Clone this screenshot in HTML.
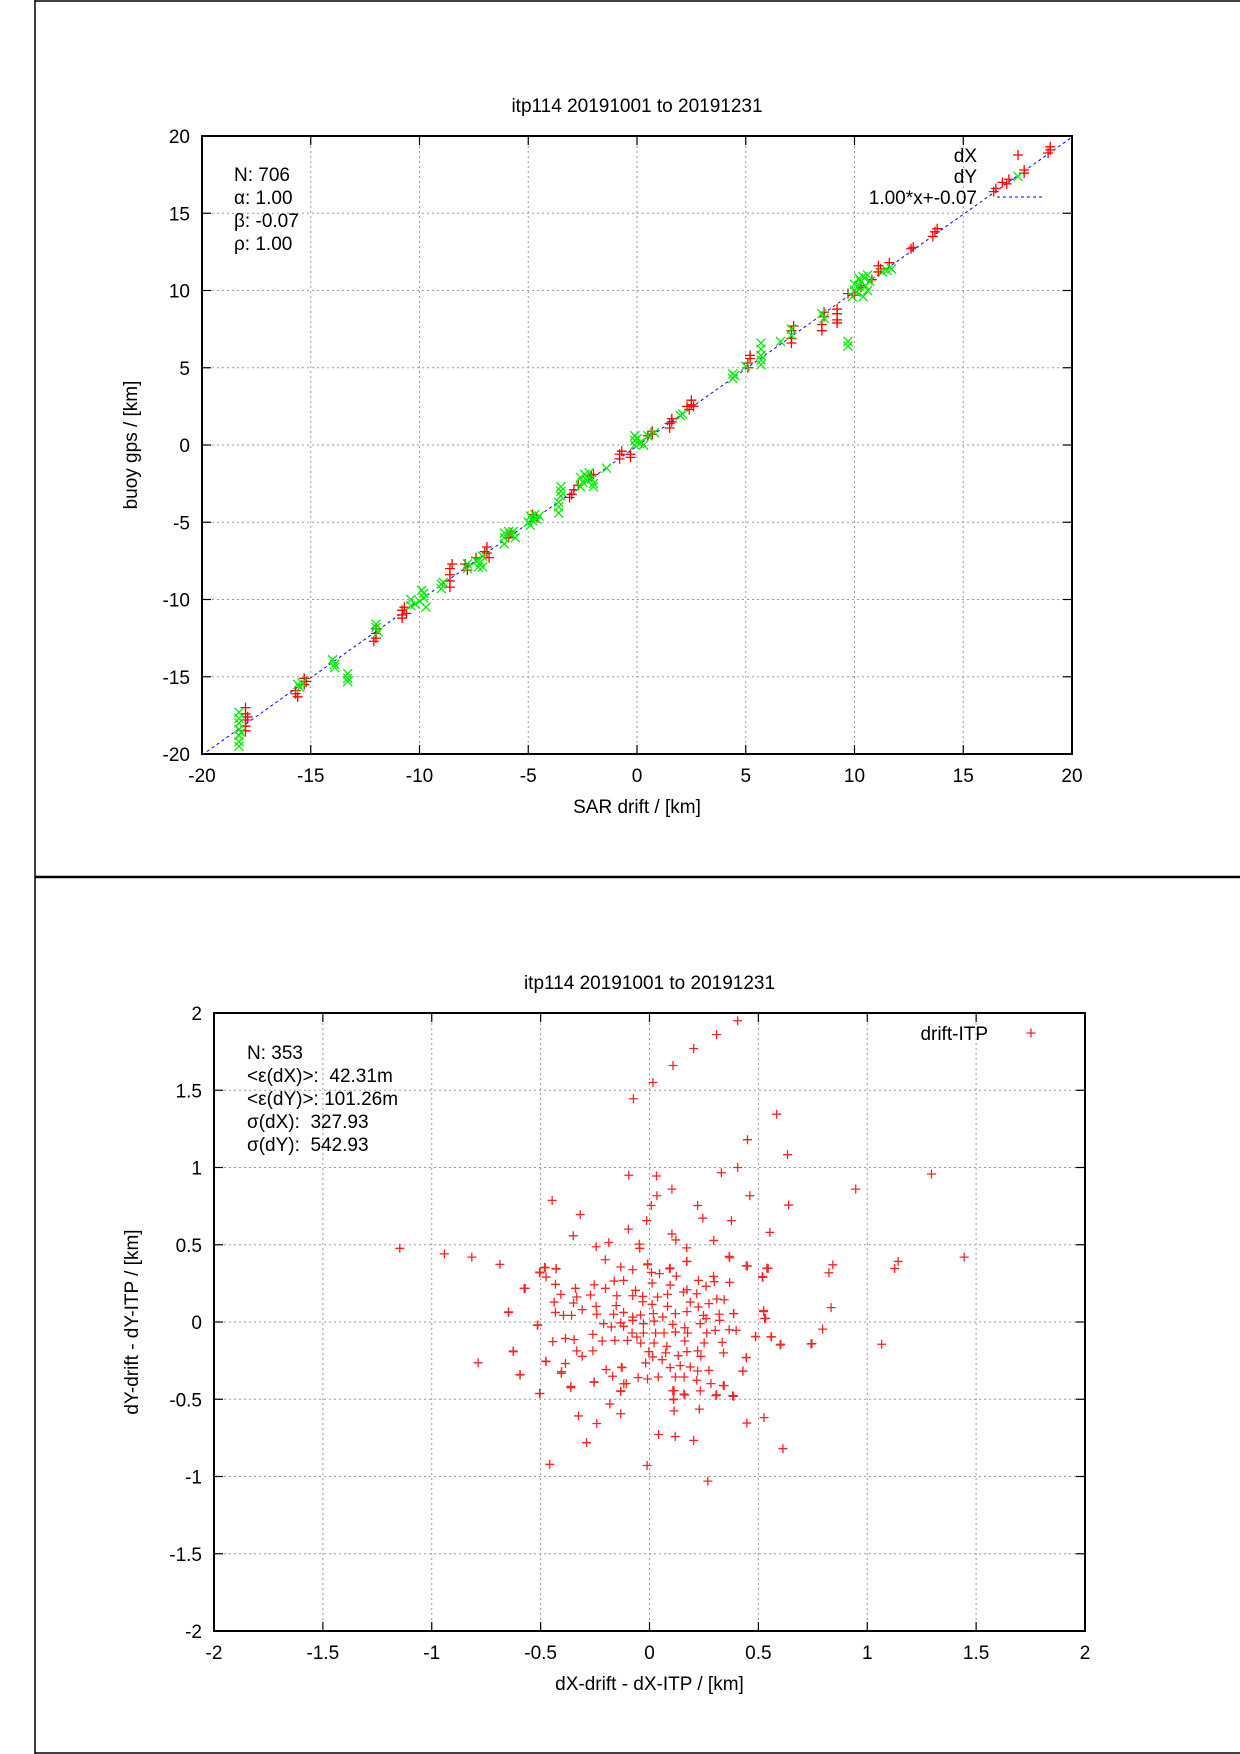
<!DOCTYPE html>
<html><head><meta charset="utf-8">
<style>
html,body{margin:0;padding:0;background:#fff;}
svg{display:block;font-family:"Liberation Sans",Arial,sans-serif;}
text{white-space:pre;}
</style></head>
<body>
<svg id="svg" width="1240" height="1754" viewBox="0 0 1240 1754" xmlns="http://www.w3.org/2000/svg">
<rect x="0" y="0" width="1240" height="1754" fill="#fff"/>
<line x1="35" y1="0" x2="35" y2="1754" stroke="#000" stroke-width="1.5"/>
<line x1="35" y1="1" x2="1240" y2="1" stroke="#000" stroke-width="1.5"/>
<line x1="35" y1="1753" x2="1240" y2="1753" stroke="#000" stroke-width="1.5"/>
<line x1="35" y1="877" x2="1240" y2="877" stroke="#000" stroke-width="2.5"/>
<g id="p1"></g>
<g id="p2"></g>
</svg>
<script>
// ===== Chart 1 data: [SAR drift, buoy gps] in km =====
const p1XTicks = [-20,-15,-10,-5,0,5,10,15,20];
const p1YTicks = [-20,-15,-10,-5,0,5,10,15,20];
const p1Stats = ["N: 706","α: 1.00","β: -0.07","ρ: 1.00"];
const fitSlope = 1.00;
const fitIntercept = -0.07;
const dXPoints = [
[-18.0,-17.0],[-18.0,-17.4],[-18.0,-17.8],[-18.0,-18.2],[-18.0,-18.5],[-17.9,-17.6],
[-15.7,-16.1],[-15.7,-15.9],[-15.6,-16.3],[-15.3,-15.1],[-15.3,-15.5],[-15.2,-15.3],
[-12,-12.5],[-12,-12.2],[-12,-11.9],[-12.1,-12.7],
[-10.8,-10.7],[-10.8,-11.0],[-10.7,-10.5],[-10.8,-11.2],[-10.6,-10.9],
[-8.6,-8.0],[-8.6,-8.4],[-8.6,-8.8],[-8.6,-9.2],[-8.5,-7.7],
[-7.9,-7.7],[-7.8,-8.1],[-7.4,-7.3],
[-6.9,-6.6],[-6.9,-7.0],[-6.8,-7.3],[-7.0,-6.9],
[-5.9,-6.0],[-5.8,-5.7],[-4.8,-4.5],[-4.6,-4.7],
[-3.0,-3.2],[-2.9,-2.9],[-2.7,-2.6],[-3.1,-3.4],[-2.0,-1.9],[-2.1,-2.0],
[-0.8,-0.6],[-0.8,-0.9],[-0.7,-0.4],[-0.3,-0.6],[-0.3,-0.8],
[0.5,0.6],[0.7,0.9],[0.7,0.7],
[1.5,1.1],[1.5,1.4],[1.6,1.7],[1.6,1.5],
[2.4,2.3],[2.5,2.6],[2.5,2.9],[2.3,2.5],[2.6,2.5],
[5.1,5.0],[5.1,5.3],[5.2,5.6],[5.2,5.8],
[7.1,6.6],[7.1,6.9],[7.1,7.4],[7.2,7.7],
[8.5,7.4],[8.5,7.8],[8.6,8.3],[8.6,8.6],
[9.2,8.1],[9.2,8.5],[9.2,8.8],[9.2,7.9],
[9.7,9.8],[10.0,9.7],[10.3,10.2],[10.8,10.7],
[11.1,11.2],[11.1,11.6],[11.2,11.4],[11.6,11.8],
[12.6,12.7],[12.7,12.8],
[13.6,13.5],[13.7,13.8],[13.8,14.0],
[16.4,16.4],[16.5,16.6],[16.8,17.0],[17.0,16.9],[17.1,17.2],
[17.8,17.6],[17.8,17.8],[18.9,18.9],[19.0,19.1],[19.0,19.3]
];
const dYPoints = [
[-18.3,-17.3],[-18.3,-17.7],[-18.3,-18.0],[-18.3,-18.4],[-18.3,-18.8],[-18.3,-19.2],[-18.3,-19.5],[-18.2,-18.6],
[-15.6,-15.5],[-15.4,-15.4],[-15.5,-15.7],
[-14.0,-13.9],[-13.9,-14.2],[-13.9,-14.4],
[-13.3,-14.8],[-13.3,-15.1],[-13.3,-15.3],
[-12.0,-11.8],[-11.9,-12.1],[-12.0,-11.6],
[-10.4,-10.0],[-10.4,-10.4],[-10.2,-10.3],[-10.0,-10.1],
[-9.8,-9.6],[-9.8,-9.9],[-9.7,-10.5],[-9.9,-9.4],
[-9.0,-9.0],[-9.0,-9.3],[-8.9,-8.9],
[-7.8,-7.7],[-7.8,-8.0],[-7.4,-7.5],[-7.3,-7.9],[-7.1,-7.2],[-7.2,-7.6],[-7.1,-7.9],
[-6.1,-5.7],[-6.1,-6.0],[-6.1,-6.4],[-5.9,-5.6],[-5.8,-5.8],[-5.7,-5.6],[-5.6,-6.0],
[-5.0,-5.0],[-4.9,-4.6],[-4.8,-4.9],[-4.6,-4.8],[-4.5,-4.6],[-4.7,-4.5],[-4.9,-5.2],
[-3.5,-2.7],[-3.5,-3.0],[-3.5,-3.3],[-3.6,-3.7],[-3.6,-4.0],[-3.6,-4.4],
[-2.6,-2.1],[-2.5,-2.4],[-2.6,-2.7],[-2.4,-1.9],[-2.3,-2.3],[-2.1,-2.2],[-2.0,-2.7],[-2.0,-2.5],[-2.2,-1.8],
[-1.4,-1.5],
[-0.1,0.0],[-0.1,0.3],[-0.1,0.6],[0.0,0.4],[0.1,0.1],[0.2,0.2],[0.3,0.0],[0.5,0.6],[0.8,0.8],
[2.1,2.0],[2.0,1.9],
[4.4,4.3],[4.4,4.6],[4.5,4.5],
[5.0,5.1],[5.7,5.2],[5.7,5.5],[5.7,5.8],[5.7,6.2],[5.7,6.6],
[6.6,6.7],[7.1,7.1],[7.1,7.5],
[8.5,8.5],[8.6,8.2],
[9.7,6.4],[9.7,6.7],
[9.9,9.6],[10.0,10.0],[10.1,9.9],[10.2,10.3],[10.3,10.6],[10.4,10.9],[10.5,10.3],[10.6,10.0],[10.4,9.6],[10.6,11.0],[10.2,10.8],[10.0,10.4],[10.7,10.6],
[11.3,11.2],[11.5,11.3],[11.7,11.4]
];
// ===== Chart 2 data: [dX-drift - dX-ITP, dY-drift - dY-ITP] in km =====
const p2XTicks = [-2,-1.5,-1,-0.5,0,0.5,1,1.5,2];
const p2YTicks = [-2,-1.5,-1,-0.5,0,0.5,1,1.5,2];
const p2Stats = ["N: 353","<ε(dX)>:  42.31m","<ε(dY)>: 101.26m","σ(dX):  327.93","σ(dY):  542.93"];
const diffPoints = [
[0.405,1.95],[0.308,1.86],[0.203,1.77],[0.108,1.66],[0.016,1.55],[-0.074,1.445],[0.584,1.345],[0.45,1.18],[0.634,1.083],
[0.405,1.0],[0.33,0.966],[-0.095,0.95],[0.032,0.945],[1.295,0.958],[0.947,0.86],[0.103,0.86],[0.461,0.817],[-0.447,0.787],
[0.034,0.817],[0.639,0.757],[0.221,0.754],[0.008,0.754],[-0.318,0.695],[0.245,0.672],[0.376,0.656],[-0.013,0.656],[-0.097,0.601],
[0.553,0.58],[0.103,0.57],[-0.35,0.558],[0.295,0.528],[0.121,0.531],[-0.187,0.514],[-0.245,0.487],[-0.047,0.504],[-0.045,0.477],
[0.171,0.48],[-1.147,0.477],[-0.942,0.441],[-0.816,0.42],[-0.687,0.373],[1.445,0.42],[1.142,0.392],[1.126,0.346],[0.842,0.37],
[0.824,0.319],[0.366,0.425],[0.45,0.362],[0.539,0.349],[0.518,0.294],[0.171,0.392],[-0.203,0.403],[-0.008,0.376],[0.095,0.349],
[-0.482,0.354],[-0.429,0.346],[-0.503,0.319],[-0.571,0.218],[-0.647,0.065],[-0.513,-0.019],[0.834,0.093],[0.795,-0.046],
[0.742,-0.142],[1.066,-0.144],[0.603,-0.144],[0.558,-0.095],[-0.626,-0.188],[-0.787,-0.264],[-0.595,-0.34],[-0.503,-0.463],
[-0.476,-0.253],[-0.405,-0.332],[-0.361,-0.417],[-0.255,-0.387],[-0.182,-0.531],[-0.132,-0.594],[-0.326,-0.608],[-0.242,-0.657],
[-0.289,-0.781],[-0.458,-0.921],[-0.011,-0.929],[0.268,-1.03],[0.042,-0.728],[0.118,-0.741],[0.203,-0.766],[0.613,-0.82],
[0.447,-0.654],[0.526,-0.619],[0.229,-0.564],[0.113,-0.575],[0.382,-0.477],[0.308,-0.471],[0.339,-0.411],[0.429,-0.319],
[0.445,-0.229],[0.487,-0.095],[0.387,0.054],[0.524,0.074],[0.529,0.022],[-0.129,-0.292],[-0.118,-0.4],[-0.132,-0.45],
[0.113,-0.444],[0.158,-0.466],[0.111,-0.499],
[-0.479,0.351],[-0.429,0.343],[-0.505,0.323],[-0.475,0.291],[-0.132,0.356],[-0.077,0.338],[-0.009,0.371],[0.009,0.321],
[0.046,0.313],[0.092,0.345],[0.123,0.297],[0.172,0.392],[0.368,0.416],[0.444,0.364],[0.294,0.295],[0.225,0.269],[0.26,0.231],
[0.297,0.261],[0.368,0.256],[0.521,0.289],[0.545,0.347],
[-0.432,0.244],[-0.576,0.218],[-0.34,0.218],[-0.254,0.241],[-0.202,0.218],[-0.162,0.265],[-0.119,0.269],[-0.064,0.205],
[0.012,0.252],[0.095,0.239],[0.172,0.209],[0.217,0.183],[-0.407,0.179],[-0.334,0.162],[-0.271,0.175],[-0.15,0.17],[-0.077,0.17],
[-0.031,0.166],[0.037,0.162],[0.083,0.179],[0.156,0.194],[0.187,0.129],[0.309,0.149],[0.343,0.144],[0.273,0.119],[-0.438,0.129],
[-0.349,0.123],[-0.309,0.08],[-0.245,0.101],[-0.153,0.106],[-0.031,0.131],[0.012,0.114],[0.083,0.101],[0.224,0.097],
[-0.432,0.062],[-0.395,0.043],[-0.358,0.043],[-0.648,0.062],[-0.242,0.05],[-0.165,0.05],[-0.119,0.062],[-0.077,0.032],
[-0.041,0.045],[0.018,0.054],[0.061,0.032],[0.119,0.054],[0.172,0.067],[0.248,0.043],[0.32,0.05],[0.386,0.054],[0.524,0.067],
[0.533,0.024],[-0.515,-0.022],[-0.211,-0.011],[-0.132,-0.006],[-0.077,0.011],[-0.028,-0.011],[0.021,0.006],[0.107,-0.015],
[0.162,-0.037],[0.233,-0.011],[0.26,0.022],[0.322,0.011],
[-0.26,-0.08],[-0.175,-0.032],[-0.119,-0.028],[-0.08,-0.071],[-0.058,-0.097],[-0.028,-0.071],[0.028,-0.071],[0.067,-0.071],
[0.119,-0.065],[0.175,-0.071],[0.263,-0.071],[0.302,-0.054],[0.366,-0.05],[0.398,-0.054],[0.487,-0.093],[-0.444,-0.127],
[-0.386,-0.106],[-0.346,-0.114],[-0.217,-0.123],[-0.159,-0.119],[-0.101,-0.119],[-0.04,-0.136],[0.021,-0.136],[0.08,-0.157],
[0.162,-0.123],[0.251,-0.136],[0.334,-0.131],[0.56,-0.097],[0.6,-0.149],[0.746,-0.14],
[-0.625,-0.192],[-0.334,-0.187],[-0.26,-0.187],[-0.309,-0.222],[-0.003,-0.192],[0.015,-0.226],[0.074,-0.2],[0.132,-0.218],
[0.172,-0.192],[0.221,-0.187],[0.236,-0.222],[0.34,-0.2],[0.444,-0.231],[-0.475,-0.256],[-0.386,-0.269],[-0.018,-0.265],
[0.058,-0.244],[0.095,-0.295],[0.141,-0.282],[0.187,-0.291],[0.221,-0.317],[0.273,-0.313],[-0.404,-0.321],[-0.199,-0.308],
[-0.126,-0.295],[-0.169,-0.351],[-0.052,-0.36],[-0.009,-0.369],[0.04,-0.356],[0.119,-0.356],[0.159,-0.356],[0.217,-0.377],
[0.429,-0.317],[-0.594,-0.343],
[-0.361,-0.425],[-0.254,-0.39],[-0.107,-0.399],[-0.132,-0.446],[0.107,-0.446],[0.162,-0.472],[0.233,-0.446],[0.282,-0.399],
[0.343,-0.412],[0.305,-0.476],[0.386,-0.481],[0.11,-0.502],[-0.505,-0.463]
];

const NS = "http://www.w3.org/2000/svg";
const FS = 19;
function mk(parent, tag, attrs, text){
  const e = document.createElementNS(NS, tag);
  for (const k in attrs) e.setAttribute(k, attrs[k]);
  if (text !== undefined) e.textContent = text;
  parent.appendChild(e);
  return e;
}
function scale(d0,d1,r0,r1){ return v => r0 + (v-d0)/(d1-d0)*(r1-r0); }

function drawPlus(g, cx, cy, s, color){
  const p = mk(g, "path", {d:`M${cx-s},${cy}H${cx+s}M${cx},${cy-s}V${cy+s}`, stroke:color, "stroke-width":1.3, fill:"none"});
  
  
  return p;
}
function drawX(g, cx, cy, s, color){
  const p = mk(g, "path", {d:`M${cx-s},${cy-s}L${cx+s},${cy+s}M${cx-s},${cy+s}L${cx+s},${cy-s}`, stroke:color, "stroke-width":1.3, fill:"none"});
  
  
  return p;
}

function axes(g, L, R, T, B, xs, ys, xTicks, yTicks, title, titleY, xTitle, yTitle, ytX, ytY){
  const grid = mk(g, "g", {});
  
  
  xTicks.forEach((t,i)=>{
    const x = xs(t);
    if (i>0 && i<xTicks.length-1) mk(grid,"line",{x1:x,y1:T,x2:x,y2:B,stroke:"#999","stroke-width":1,"stroke-dasharray":"2,3"});
    mk(g,"line",{x1:x,y1:B,x2:x,y2:B-9,stroke:"#000","stroke-width":1.2});
    mk(g,"line",{x1:x,y1:T,x2:x,y2:T+9,stroke:"#000","stroke-width":1.2});
    const lb = mk(g,"text",{x:x,y:B+28,"font-size":FS,"text-anchor":"middle"}, String(t));
    
    
  });
  yTicks.forEach((t,i)=>{
    const y = ys(t);
    if (i>0 && i<yTicks.length-1) mk(grid,"line",{x1:L,y1:y,x2:R,y2:y,stroke:"#999","stroke-width":1,"stroke-dasharray":"2,3"});
    mk(g,"line",{x1:L,y1:y,x2:L+9,y2:y,stroke:"#000","stroke-width":1.2});
    mk(g,"line",{x1:R,y1:y,x2:R-9,y2:y,stroke:"#000","stroke-width":1.2});
    const lb = mk(g,"text",{x:L-12,y:y+7,"font-size":FS,"text-anchor":"end"}, String(t));
    
    
  });
  const fr = mk(g,"rect",{x:L,y:T,width:R-L,height:B-T,fill:"none",stroke:"#000","stroke-width":2});
  
  
  const tt = mk(g,"text",{x:(L+R)/2,y:titleY,"font-size":FS,"text-anchor":"middle"}, title);
  
  
  const xt = mk(g,"text",{x:(L+R)/2,y:B+59,"font-size":FS,"text-anchor":"middle"}, xTitle);
  
  
  const yt = mk(g,"text",{x:ytX,y:ytY,"font-size":FS,"text-anchor":"middle",transform:`rotate(-90 ${ytX} ${ytY})`}, yTitle);
  
  
}

// ---- Chart 1 ----
(function(){
  const g = document.getElementById("p1");
  const L=202,R=1072,T=136,B=754;
  const xs = scale(-20,20,L,R), ys = scale(-20,20,B,T);
  axes(g,L,R,T,B,xs,ys,p1XTicks,p1YTicks,"itp114 20191001 to 20191231",112,"SAR drift / [km]","buoy gps / [km]",137,445);
  const fit = mk(g,"line",{x1:xs(-20),y1:ys(fitSlope*-20+fitIntercept),x2:xs(20),y2:ys(fitSlope*20+fitIntercept),stroke:"#0000ff","stroke-width":1,"stroke-dasharray":"3,3"});
  
  
  const sr = mk(g,"g",{});
  
  
  dXPoints.forEach(p=>drawPlus(sr,xs(p[0]),ys(p[1]),5,"#ff0000"));
  const sg = mk(g,"g",{});
  
  
  dYPoints.forEach(p=>drawX(sg,xs(p[0]),ys(p[1]),4.5,"#00ee00"));
  p1Stats.forEach((s,i)=>{
    const t = mk(g,"text",{x:234,y:181+i*23,"font-size":FS}, s);
    
    
  });
  const lg = mk(g,"g",{});
  
  
  const l1 = mk(lg,"text",{x:977,y:162,"font-size":FS,"text-anchor":"end"},"dX");
  
  
  drawPlus(lg,1018,155,5,"#ff0000");
  const l2 = mk(lg,"text",{x:977,y:183,"font-size":FS,"text-anchor":"end"},"dY");
  
  
  drawX(lg,1018,176.5,4.5,"#00ee00");
  const l3 = mk(lg,"text",{x:977,y:204,"font-size":FS,"text-anchor":"end"},"1.00*x+-0.07");
  
  
  mk(lg,"line",{x1:997,y1:197,x2:1045,y2:197,stroke:"#0000ff","stroke-width":1,"stroke-dasharray":"3,3"});
})();

// ---- Chart 2 ----
(function(){
  const g = document.getElementById("p2");
  const L=214,R=1085,T=1013,B=1631;
  const xs = scale(-2,2,L,R), ys = scale(-2,2,B,T);
  axes(g,L,R,T,B,xs,ys,p2XTicks,p2YTicks,"itp114 20191001 to 20191231",989,"dX-drift - dX-ITP / [km]","dY-drift - dY-ITP / [km]",138,1322);
  const sr = mk(g,"g",{});
  
  
  diffPoints.forEach(p=>drawPlus(sr,xs(p[0]),ys(p[1]),4.5,"#ff2222"));
  p2Stats.forEach((s,i)=>{
    const t = mk(g,"text",{x:247,y:1059+i*23,"font-size":FS}, s);
    
    
  });
  const lg = mk(g,"g",{});
  
  
  const l1 = mk(lg,"text",{x:988,y:1040,"font-size":FS,"text-anchor":"end"},"drift-ITP");
  
  
  drawPlus(lg,1031,1033,4.5,"#ff2222");
})();
</script>
</body></html>
